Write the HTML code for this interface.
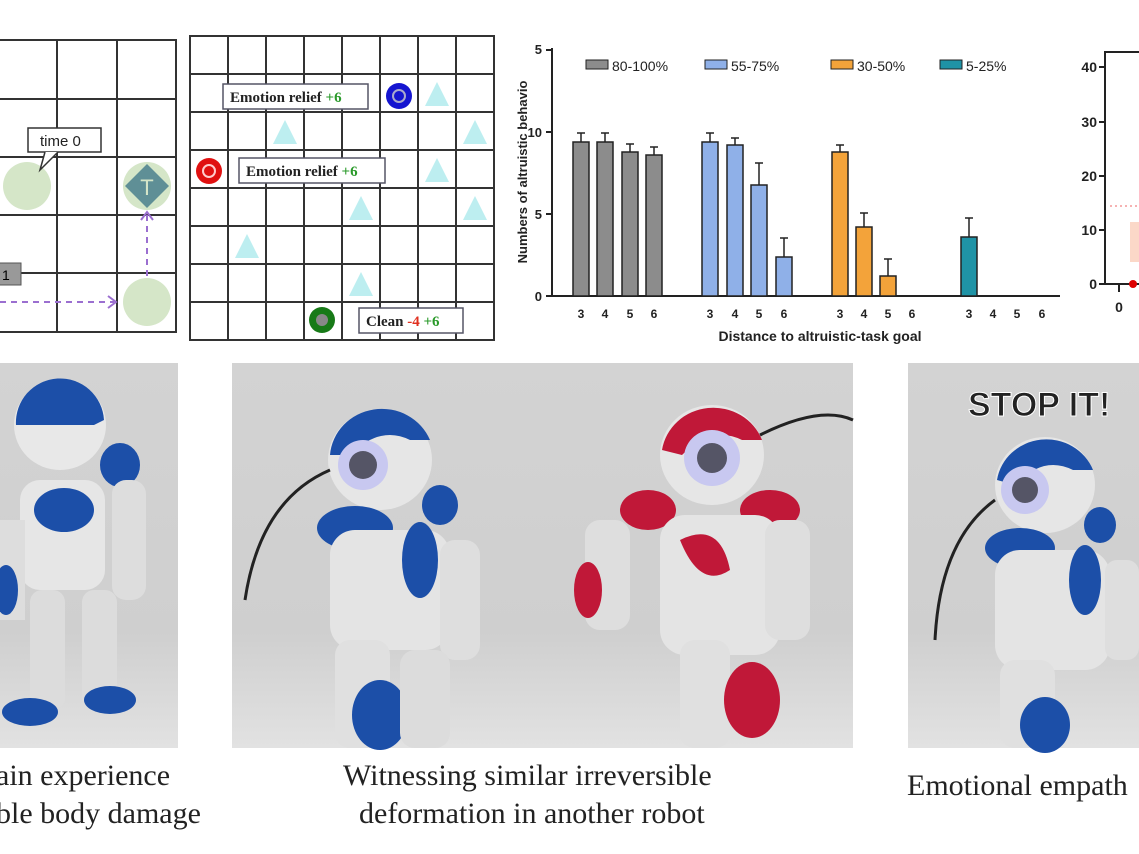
<!DOCTYPE html><html><head><style>
body{margin:0;width:1139px;height:854px;background:#fff;overflow:hidden;position:relative;font-family:"Liberation Sans",sans-serif}
.cap{position:absolute;font-family:"Liberation Serif",serif;font-size:30px;color:#222;white-space:nowrap;line-height:1}
</style></head><body>
<svg width="1139" height="854" style="position:absolute;left:0;top:0">
<g stroke="#333" stroke-width="2" fill="none">
<rect x="-2" y="40" width="178" height="292"/>
<line x1="57" y1="40" x2="57" y2="332"/><line x1="117" y1="40" x2="117" y2="332"/>
<line x1="0" y1="99" x2="176" y2="99"/><line x1="0" y1="157" x2="176" y2="157"/><line x1="0" y1="215" x2="176" y2="215"/><line x1="0" y1="273" x2="176" y2="273"/>
</g>
<circle cx="27" cy="186" r="24" fill="#d5e6c8"/>
<circle cx="147" cy="186" r="24" fill="#d5e6c8"/>
<polygon points="147,164 169,186 147,208 125,186" fill="#5f8f96"/>
<text x="147" y="195" font-size="22" fill="#d5e6c8" text-anchor="middle">T</text>
<circle cx="147" cy="302" r="24" fill="#d5e6c8"/>
<g stroke="#9b6fd0" stroke-width="2" stroke-dasharray="6,5" fill="none"><line x1="0" y1="302" x2="114" y2="302"/><line x1="147" y1="276" x2="147" y2="214"/></g>
<path d="M108,296 L116,302 108,308 M141,220 L147,212 153,220" stroke="#9b6fd0" stroke-width="2" fill="none"/>
<rect x="28" y="128" width="73" height="24" fill="#fff" stroke="#333" stroke-width="1.5"/>
<path d="M45,152 L40,170 L58,152" fill="#fff" stroke="#333" stroke-width="1.5"/>
<text x="40" y="146" font-size="15" fill="#222">time 0</text>
<rect x="-2" y="263" width="23" height="22" fill="#999" stroke="#555"/><text x="2" y="280" font-size="14">1</text>
<g stroke="#333" stroke-width="2" fill="none">
<rect x="190" y="36" width="304" height="304"/>
<line x1="228" y1="36" x2="228" y2="340"/><line x1="266" y1="36" x2="266" y2="340"/><line x1="304" y1="36" x2="304" y2="340"/><line x1="342" y1="36" x2="342" y2="340"/><line x1="380" y1="36" x2="380" y2="340"/><line x1="418" y1="36" x2="418" y2="340"/><line x1="456" y1="36" x2="456" y2="340"/>
<line x1="190" y1="74" x2="494" y2="74"/><line x1="190" y1="112" x2="494" y2="112"/><line x1="190" y1="150" x2="494" y2="150"/><line x1="190" y1="188" x2="494" y2="188"/><line x1="190" y1="226" x2="494" y2="226"/><line x1="190" y1="264" x2="494" y2="264"/><line x1="190" y1="302" x2="494" y2="302"/>
</g>
<g fill="#bdeef0">
<polygon points="437,82 449,106 425,106"/><polygon points="285,120 297,144 273,144"/><polygon points="475,120 487,144 463,144"/><polygon points="437,158 449,182 425,182"/><polygon points="361,196 373,220 349,220"/><polygon points="475,196 487,220 463,220"/><polygon points="247,234 259,258 235,258"/><polygon points="361,272 373,296 349,296"/>
</g>
<circle cx="399" cy="96" r="13" fill="#1515d0"/><circle cx="399" cy="96" r="6" fill="none" stroke="#aac" stroke-width="2"/>
<circle cx="209" cy="171" r="13" fill="#e01010"/><circle cx="209" cy="171" r="6" fill="none" stroke="#fcc" stroke-width="2"/>
<circle cx="322" cy="320" r="13" fill="#177a17"/><circle cx="322" cy="320" r="6" fill="#888"/>
<g stroke="#556" stroke-width="1.5" fill="#fff">
<rect x="223" y="84" width="145" height="25"/><rect x="239" y="158" width="146" height="25"/><rect x="359" y="308" width="104" height="25"/></g>
<g font-family="Liberation Serif,serif" font-weight="bold" font-size="15" fill="#222">
<text x="230" y="102">Emotion relief <tspan fill="#2a9a2a">+6</tspan></text>
<text x="246" y="176">Emotion relief <tspan fill="#2a9a2a">+6</tspan></text>
<text x="366" y="326">Clean <tspan fill="#e03020">-4</tspan> <tspan fill="#2a9a2a">+6</tspan></text>
</g>
<g stroke="#222" stroke-width="2"><line x1="552" y1="48" x2="552" y2="297"/><line x1="551" y1="296" x2="1060" y2="296"/>
<line x1="546" y1="50" x2="552" y2="50"/><line x1="546" y1="132" x2="552" y2="132"/><line x1="546" y1="214" x2="552" y2="214"/><line x1="546" y1="296" x2="552" y2="296"/></g>
<g font-size="13" fill="#222" text-anchor="end" font-weight="bold"><text x="542" y="54">5</text><text x="542" y="137">10</text><text x="542" y="219">5</text><text x="542" y="301">0</text></g>
<text transform="translate(527,172) rotate(-90)" font-size="13" font-weight="bold" text-anchor="middle" fill="#222">Numbers of altruistic behavio</text>
<g stroke="#222" stroke-width="1.5">
<rect x="573" y="142" width="16" height="154" fill="#8c8c8c"/><rect x="597" y="142" width="16" height="154" fill="#8c8c8c"/><rect x="622" y="152" width="16" height="144" fill="#8c8c8c"/><rect x="646" y="155" width="16" height="141" fill="#8c8c8c"/>
<rect x="702" y="142" width="16" height="154" fill="#8fb0e8"/><rect x="727" y="145" width="16" height="151" fill="#8fb0e8"/><rect x="751" y="185" width="16" height="111" fill="#8fb0e8"/><rect x="776" y="257" width="16" height="39" fill="#8fb0e8"/>
<rect x="832" y="152" width="16" height="144" fill="#f3a33a"/><rect x="856" y="227" width="16" height="69" fill="#f3a33a"/><rect x="880" y="276" width="16" height="20" fill="#f3a33a"/>
<rect x="961" y="237" width="16" height="59" fill="#1f93a6"/>
<path d="M581,142V133M577,133h8M605,142V133M601,133h8M630,152V144M626,144h8M654,155V147M650,147h8M710,142V133M706,133h8M735,145V138M731,138h8M759,185V163M755,163h8M784,257V238M780,238h8M840,152V145M836,145h8M864,227V213M860,213h8M888,276V259M884,259h8M969,237V218M965,218h8" fill="none"/>
</g>
<g font-size="12" fill="#222" text-anchor="middle" font-weight="bold">
<text x="581" y="318">3</text><text x="605" y="318">4</text><text x="630" y="318">5</text><text x="654" y="318">6</text>
<text x="710" y="318">3</text><text x="735" y="318">4</text><text x="759" y="318">5</text><text x="784" y="318">6</text>
<text x="840" y="318">3</text><text x="864" y="318">4</text><text x="888" y="318">5</text><text x="912" y="318">6</text>
<text x="969" y="318">3</text><text x="993" y="318">4</text><text x="1017" y="318">5</text><text x="1042" y="318">6</text></g>
<text x="820" y="341" font-size="14" font-weight="bold" text-anchor="middle" fill="#222">Distance to altruistic-task goal</text>
<g font-size="14" fill="#222">
<rect x="586" y="60" width="22" height="9" fill="#8c8c8c" stroke="#222"/><text x="612" y="71">80-100%</text>
<rect x="705" y="60" width="22" height="9" fill="#8fb0e8" stroke="#222"/><text x="731" y="71">55-75%</text>
<rect x="831" y="60" width="22" height="9" fill="#f3a33a" stroke="#222"/><text x="857" y="71">30-50%</text>
<rect x="940" y="60" width="22" height="9" fill="#1f93a6" stroke="#222"/><text x="966" y="71">5-25%</text></g>
<g stroke="#222" stroke-width="2"><line x1="1105" y1="52" x2="1105" y2="285"/><line x1="1104" y1="52" x2="1139" y2="52"/><line x1="1104" y1="284" x2="1139" y2="284"/>
<line x1="1099" y1="67" x2="1105" y2="67"/><line x1="1099" y1="122" x2="1105" y2="122"/><line x1="1099" y1="176" x2="1105" y2="176"/><line x1="1099" y1="230" x2="1105" y2="230"/><line x1="1099" y1="284" x2="1105" y2="284"/><line x1="1119" y1="284" x2="1119" y2="292"/></g>
<g font-size="14" fill="#222" text-anchor="end" font-weight="bold"><text x="1097" y="72">40</text><text x="1097" y="127">30</text><text x="1097" y="181">20</text><text x="1097" y="235">10</text><text x="1097" y="289">0</text></g>
<text x="1119" y="312" font-size="14" text-anchor="middle" fill="#222" font-weight="bold">0</text>
<line x1="1110" y1="206" x2="1139" y2="206" stroke="#e66" stroke-dasharray="2,3"/>
<rect x="1130" y="222" width="9" height="40" fill="#fbd8c8"/>
<circle cx="1133" cy="284" r="4" fill="#d00"/>
<defs><linearGradient id="bg" x1="0" y1="0" x2="0" y2="1"><stop offset="0" stop-color="#d3d3d3"/><stop offset="0.7" stop-color="#cfcfcf"/><stop offset="1" stop-color="#e2e2e2"/></linearGradient></defs>
<rect x="0" y="363" width="178" height="385" fill="url(#bg)"/>
<rect x="232" y="363" width="621" height="385" fill="url(#bg)"/>
<rect x="908" y="363" width="231" height="385" fill="url(#bg)"/>
<g>
<ellipse cx="60" cy="425" rx="46" ry="45" fill="#e8e8e8"/><path d="M16,425 a44,44 0 0 1 88,-5 l-10,5 h-70z" fill="#1c4fa8"/>
<rect x="20" y="480" width="85" height="110" rx="20" fill="#e6e6e6"/><ellipse cx="64" cy="510" rx="30" ry="22" fill="#1c4fa8"/>
<ellipse cx="120" cy="465" rx="20" ry="22" fill="#1c4fa8"/><rect x="112" y="480" width="34" height="120" rx="14" fill="#ddd"/>
<rect x="0" y="520" width="25" height="100" fill="#ddd"/><ellipse cx="6" cy="590" rx="12" ry="25" fill="#1c4fa8"/>
<rect x="30" y="590" width="35" height="120" rx="12" fill="#dcdcdc"/><rect x="82" y="590" width="35" height="120" rx="12" fill="#dcdcdc"/>
<ellipse cx="30" cy="712" rx="28" ry="14" fill="#1c4fa8"/><ellipse cx="110" cy="700" rx="26" ry="14" fill="#1c4fa8"/></g>
<g>
<ellipse cx="380" cy="460" rx="52" ry="50" fill="#e6e6e6"/><path d="M330,455 a52,50 0 0 1 100,-15 l-20,0 q-30,-15 -60,15z" fill="#1c4fa8"/>
<circle cx="363" cy="465" r="25" fill="#c8c8f0"/><circle cx="363" cy="465" r="14" fill="#556"/>
<ellipse cx="355" cy="528" rx="38" ry="22" fill="#1c4fa8"/><ellipse cx="440" cy="505" rx="18" ry="20" fill="#1c4fa8"/>
<rect x="330" y="530" width="120" height="120" rx="25" fill="#e4e4e4"/><ellipse cx="420" cy="560" rx="18" ry="38" fill="#1c4fa8"/>
<rect x="440" y="540" width="40" height="120" rx="15" fill="#dedede"/>
<rect x="335" y="640" width="55" height="108" rx="15" fill="#e0e0e0"/><ellipse cx="380" cy="715" rx="28" ry="35" fill="#1c4fa8"/>
<rect x="400" y="650" width="50" height="98" rx="15" fill="#dcdcdc"/></g>
<path d="M330,470 Q260,500 245,600" stroke="#222" stroke-width="3" fill="none"/>
<g>
<ellipse cx="712" cy="455" rx="52" ry="50" fill="#e6e6e6"/><path d="M662,450 a52,50 0 0 1 100,-10 l-20,0 q-30,-15 -60,15z" fill="#c01838"/>
<circle cx="712" cy="458" r="28" fill="#c8c8f0"/><circle cx="712" cy="458" r="15" fill="#556"/>
<path d="M760,435 Q820,405 853,420" stroke="#222" stroke-width="3" fill="none"/>
<ellipse cx="648" cy="510" rx="28" ry="20" fill="#c01838"/><ellipse cx="770" cy="510" rx="30" ry="20" fill="#c01838"/>
<rect x="660" y="515" width="120" height="140" rx="25" fill="#e4e4e4"/><path d="M680,540 q40,-20 50,30 q-30,20 -50,-30z" fill="#c01838"/>
<rect x="585" y="520" width="45" height="110" rx="15" fill="#dedede"/><ellipse cx="588" cy="590" rx="14" ry="28" fill="#c01838"/>
<rect x="765" y="520" width="45" height="120" rx="15" fill="#dedede"/>
<rect x="680" y="640" width="50" height="108" rx="15" fill="#e0e0e0"/><ellipse cx="752" cy="700" rx="28" ry="38" fill="#c01838"/></g>
<g>
<ellipse cx="1045" cy="485" rx="50" ry="48" fill="#e6e6e6"/><path d="M997,480 a50,48 0 0 1 96,-10 l-20,0 q-30,-15 -58,15z" fill="#1c4fa8"/>
<circle cx="1025" cy="490" r="24" fill="#c8c8f0"/><circle cx="1025" cy="490" r="13" fill="#556"/>
<ellipse cx="1020" cy="548" rx="35" ry="20" fill="#1c4fa8"/><ellipse cx="1100" cy="525" rx="16" ry="18" fill="#1c4fa8"/>
<rect x="995" y="550" width="115" height="120" rx="25" fill="#e4e4e4"/><ellipse cx="1085" cy="580" rx="16" ry="35" fill="#1c4fa8"/>
<rect x="1105" y="560" width="34" height="100" rx="12" fill="#dedede"/>
<rect x="1000" y="660" width="55" height="88" rx="15" fill="#e0e0e0"/><ellipse cx="1045" cy="725" rx="25" ry="28" fill="#1c4fa8"/></g>
<path d="M995,500 Q940,540 935,640" stroke="#222" stroke-width="3" fill="none"/>
<text x="968" y="416" font-size="34" font-weight="bold" fill="#222" stroke="#fff" stroke-width="1">STOP IT!</text>
</svg>
<div class="cap" style="left:-4px;top:761px">ain experience</div>
<div class="cap" style="left:-4px;top:799px">ble body damage</div>
<div class="cap" style="left:343px;top:761px">Witnessing similar irreversible</div>
<div class="cap" style="left:359px;top:799px">deformation in another robot</div>
<div class="cap" style="left:907px;top:771px">Emotional empath</div>
</body></html>
